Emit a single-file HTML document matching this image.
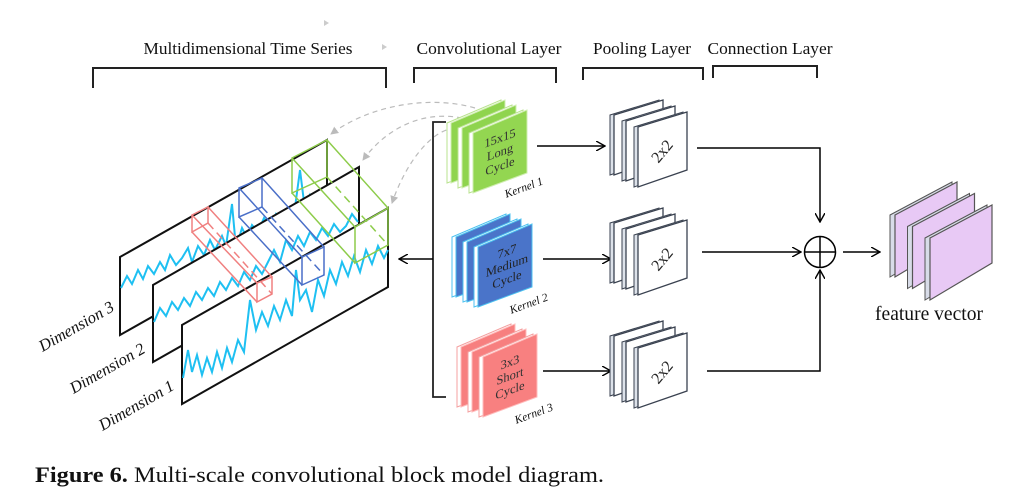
<!DOCTYPE html>
<html><head><meta charset="utf-8"><style>
html,body{margin:0;padding:0;background:#fff;}
svg{display:block;}
text{font-family:"Liberation Serif",serif;}
</style></head><body>
<svg width="1025" height="497" viewBox="0 0 1025 497" xmlns="http://www.w3.org/2000/svg">
<defs>
<marker id="ah" markerWidth="10" markerHeight="10" refX="9" refY="5" orient="auto" markerUnits="userSpaceOnUse"><path d="M0,0 L9,5 L0,10" fill="none" stroke="#000" stroke-width="1.4"/></marker>
<marker id="ag" markerWidth="8" markerHeight="8" refX="7" refY="4" orient="auto" markerUnits="userSpaceOnUse"><path d="M0,0 L8,4 L0,8z" fill="#bbb"/></marker>
</defs>
<!-- headers -->
<g font-size="17" fill="#111">
<text x="248" y="54" text-anchor="middle" textLength="209" lengthAdjust="spacingAndGlyphs">Multidimensional Time Series</text>
<text x="489" y="54" text-anchor="middle" textLength="145" lengthAdjust="spacingAndGlyphs">Convolutional Layer</text>
<text x="642" y="54" text-anchor="middle" textLength="98" lengthAdjust="spacingAndGlyphs">Pooling Layer</text>
<text x="770" y="54" text-anchor="middle" textLength="125" lengthAdjust="spacingAndGlyphs">Connection Layer</text>
</g>
<path d="M324,20 l5,3 l-5,3z M382,44 l5,3 l-5,3z" fill="#ccc"/>
<g fill="none" stroke="#222" stroke-width="2">
<path d="M93,88 V68 H386 V88"/>
<path d="M414,83 V68 H556 V83"/>
<path d="M583,80 V68 H703 V80"/>
<path d="M713,78 V66 H817 V78"/>
</g>
<!-- planes -->
<polygon points="120,257 327,140 327,218 120,335" stroke="#111" stroke-width="2" fill="#fff"/>
<polyline fill="none" stroke="#1ec0f2" stroke-width="2" points="121,288 127,276 132,284 138,270 143,279 148,266 154,274 160,262 165,270 170,255 176,265 182,258 188,248 192,262 198,246 204,255 210,240 215,250 222,236 226,246 232,204 236,248 242,228 247,238 252,225 258,232 264,218 270,226 276,214 282,222 288,210 294,215 300,170 305,210 310,195 316,205 321,192 326,198"/>
<polygon points="153,285 359,167 359,245 153,362" stroke="#111" stroke-width="2" fill="#fff"/>
<polyline fill="none" stroke="#1ec0f2" stroke-width="2" points="154,322 160,308 166,316 172,302 178,310 184,298 190,306 196,292 202,300 208,288 214,296 220,282 226,290 232,278 238,286 244,272 250,280 256,266 262,274 268,262 274,250 280,262 286,240 292,250 298,236 304,246 310,232 316,240 322,228 328,236 334,224 340,232 346,226 352,214 358,222"/>
<polygon points="182,325 388,208 388,287 182,404" stroke="#111" stroke-width="2" fill="#fff"/>
<polyline fill="none" stroke="#1ec0f2" stroke-width="2" points="183,378 188,350 192,372 197,355 202,375 207,358 212,372 217,352 222,368 227,348 232,362 238,340 244,352 250,300 256,330 262,312 268,326 274,306 280,320 286,300 292,316 296,270 300,300 306,290 312,312 318,280 324,296 330,270 336,284 342,262 348,276 354,256 360,272 366,250 372,264 378,246 384,258 388,250"/>
<!-- cuboids -->
<g fill="none" stroke-width="1.5">
<g stroke="#f08080">
<polygon points="192,215 208,207 208,223 192,232"/>
<polygon points="257,283 272,277 272,294 257,302"/>
<path d="M192,215 L257,283 M208,207 L272,277 M192,232 L257,302"/>
<path d="M208,223 L272,294" stroke-dasharray="8,5"/>
</g>
<g stroke="#4a6fc8">
<polygon points="239,188 262,178 262,207 239,217"/>
<polygon points="302,257 324,247 324,275 302,285"/>
<path d="M239,188 L302,257 M262,178 L324,247 M239,217 L302,285"/>
<path d="M262,207 L324,275" stroke-dasharray="8,5"/>
</g>
<g stroke="#8dcc4a">
<polygon points="292,158 327,140 327,177 292,193"/>
<polygon points="355,227 388,208 388,245 355,263"/>
<path d="M292,158 L355,227 M327,140 L388,208 M292,193 L355,263"/>
<path d="M327,177 L388,245" stroke-dasharray="8,5"/>
</g>
</g>
<!-- dashed curves -->
<g fill="none" stroke="#bbb" stroke-width="1.2" stroke-dasharray="5,4">
<path d="M475,108 C430,95 370,105 331,134" marker-end="url(#ag)"/>
<path d="M462,118 C420,110 385,130 363,160" marker-end="url(#ag)"/>
<path d="M455,128 C430,130 405,165 392,203" marker-end="url(#ag)"/>
</g>
<!-- dimension labels -->
<g font-size="16.5" font-style="italic" fill="#111" text-anchor="middle">
<text transform="translate(79,331) rotate(-30)">Dimension 3</text>
<text transform="translate(110,373) rotate(-30)">Dimension 2</text>
<text transform="translate(139,410) rotate(-30)">Dimension 1</text>
</g>
<!-- vertical bracket -->
<path d="M446,122 H433 V397 H446" fill="none" stroke="#222" stroke-width="1.8"/>
<line x1="433" y1="259" x2="399" y2="259" stroke="#000" stroke-width="1.5" marker-end="url(#ah)"/>
<!-- kernels -->
<g transform="translate(473,110)">
<g transform="translate(-22,-10)"><polygon points="-4,23 50,0 50,63 -4,83" fill="#fff" stroke="#b9e38f"/><polygon points="0,23 54,0 54,63 0,83" fill="#8fd44e" stroke="#cfeeb0"/></g>
<g transform="translate(-11,-5)"><polygon points="-4,23 50,0 50,63 -4,83" fill="#fff" stroke="#b9e38f"/><polygon points="0,23 54,0 54,63 0,83" fill="#8fd44e" stroke="#cfeeb0"/></g>
<polygon points="-4,23 50,0 50,63 -4,83" fill="#fff" stroke="#b9e38f"/><polygon points="0,23 54,0 54,63 0,83" fill="#93d651" stroke="#cfeeb0"/>
<g font-size="12.5" fill="#333" text-anchor="middle" transform="skewY(-20)">
<text x="27" y="42">15x15</text><text x="27" y="56">Long</text><text x="27" y="70">Cycle</text>
</g>
<text x="52" y="81" font-size="11.5" font-style="italic" fill="#111" text-anchor="middle" transform="rotate(-20 52 81)">Kernel 1</text>
</g>
<g transform="translate(478,224)">
<g transform="translate(-22,-10)"><polygon points="-4,23 50,0 50,63 -4,83" fill="#fff" stroke="#4cc2f0"/><polygon points="0,23 54,0 54,63 0,83" fill="#4a74c9" stroke="#4cc2f0"/></g>
<g transform="translate(-11,-5)"><polygon points="-4,23 50,0 50,63 -4,83" fill="#fff" stroke="#4cc2f0"/><polygon points="0,23 54,0 54,63 0,83" fill="#4a74c9" stroke="#4cc2f0"/></g>
<polygon points="-4,23 50,0 50,63 -4,83" fill="#fff" stroke="#4cc2f0"/><polygon points="0,23 54,0 54,63 0,83" fill="#4a74c9" stroke="#4cc2f0"/>
<g font-size="12.5" fill="#222" text-anchor="middle" transform="skewY(-20)">
<text x="29" y="42">7x7</text><text x="29" y="56">Medium</text><text x="29" y="70">Cycle</text>
</g>
<text x="52" y="83" font-size="11.5" font-style="italic" fill="#111" text-anchor="middle" transform="rotate(-20 52 83)">Kernel 2</text>
</g>
<g transform="translate(483,334)">
<g transform="translate(-22,-10)"><polygon points="-4,23 50,0 50,63 -4,83" fill="#fff" stroke="#f4a0a0"/><polygon points="0,23 54,0 54,63 0,83" fill="#f77f7f" stroke="#fbb"/></g>
<g transform="translate(-11,-5)"><polygon points="-4,23 50,0 50,63 -4,83" fill="#fff" stroke="#f4a0a0"/><polygon points="0,23 54,0 54,63 0,83" fill="#f77f7f" stroke="#fbb"/></g>
<polygon points="-4,23 50,0 50,63 -4,83" fill="#fff" stroke="#f4a0a0"/><polygon points="0,23 54,0 54,63 0,83" fill="#f88080" stroke="#fbb"/>
<g font-size="12.5" fill="#333" text-anchor="middle" transform="skewY(-20)">
<text x="27" y="42">3x3</text><text x="27" y="56">Short</text><text x="27" y="70">Cycle</text>
</g>
<text x="52" y="83" font-size="11.5" font-style="italic" fill="#111" text-anchor="middle" transform="rotate(-20 52 83)">Kernel 3</text>
</g>
<!-- arrows to pooling -->
<g stroke="#000" stroke-width="1.5">
<line x1="537" y1="146" x2="605" y2="146" marker-end="url(#ah)"/>
<line x1="543" y1="259" x2="611" y2="259" marker-end="url(#ah)"/>
<line x1="543" y1="371" x2="611" y2="371" marker-end="url(#ah)"/>
</g>
<!-- pooling -->
<g id="pl">
<g transform="translate(638,112)">
<g transform="translate(-24,-12)"><polygon points="-4,15 45,0 45,58 -4,75" fill="#dde2ea" stroke="#3a4250"/><polygon points="0,15 49,0 49,58 0,75" fill="#fff" stroke="#3a4250" stroke-width="1.3"/></g>
<g transform="translate(-12,-6)"><polygon points="-4,15 45,0 45,58 -4,75" fill="#dde2ea" stroke="#3a4250"/><polygon points="0,15 49,0 49,58 0,75" fill="#fff" stroke="#3a4250" stroke-width="1.3"/></g>
<polygon points="-4,15 45,0 45,58 -4,75" fill="#dde2ea" stroke="#3a4250"/><polygon points="0,15 49,0 49,58 0,75" fill="#fff" stroke="#3a4250" stroke-width="1.3"/>
<text x="25" y="44" font-size="16" fill="#222" text-anchor="middle" transform="rotate(-50 25 40)">2x2</text>
</g>
</g>
<g transform="translate(0,108)"><use href="#pl"/></g>
<g transform="translate(0,221)"><use href="#pl"/></g>
<!-- connection -->
<g fill="none" stroke="#000" stroke-width="1.5">
<path d="M697,148 H820 V222" marker-end="url(#ah)"/>
<line x1="702" y1="252" x2="801" y2="252" marker-end="url(#ah)"/>
<path d="M707,371 H820 V270" marker-end="url(#ah)"/>
<circle cx="820" cy="252" r="15.5"/>
<path d="M804.5,252 H835.5 M820,236.5 V267.5"/>
<line x1="843" y1="252" x2="880" y2="252" marker-end="url(#ah)"/>
</g>
<!-- feature vector -->
<g transform="translate(930,205)">
<g transform="translate(-35,-23)"><polygon points="-5,33 57,0 57,58 -5,95" fill="#d8dce8" stroke="#555"/><polygon points="0,33 62,0 62,58 0,95" fill="#e8c9f5" stroke="#555" stroke-width="1.2"/></g>
<g transform="translate(-17.5,-11.5)"><polygon points="-5,33 57,0 57,58 -5,95" fill="#d8dce8" stroke="#555"/><polygon points="0,33 62,0 62,58 0,95" fill="#e8c9f5" stroke="#555" stroke-width="1.2"/></g>
<polygon points="-5,33 57,0 57,58 -5,95" fill="#d8dce8" stroke="#555"/><polygon points="0,33 62,0 62,58 0,95" fill="#e8c9f5" stroke="#555" stroke-width="1.2"/>
</g>
<text x="929" y="320" font-size="19.5" fill="#111" text-anchor="middle" textLength="108" lengthAdjust="spacingAndGlyphs">feature vector</text>
<!-- caption -->
<text x="35" y="482" font-size="22" fill="#111" textLength="569" lengthAdjust="spacingAndGlyphs"><tspan font-weight="bold">Figure 6.</tspan> Multi-scale convolutional block model diagram.</text>
</svg>
</body></html>
